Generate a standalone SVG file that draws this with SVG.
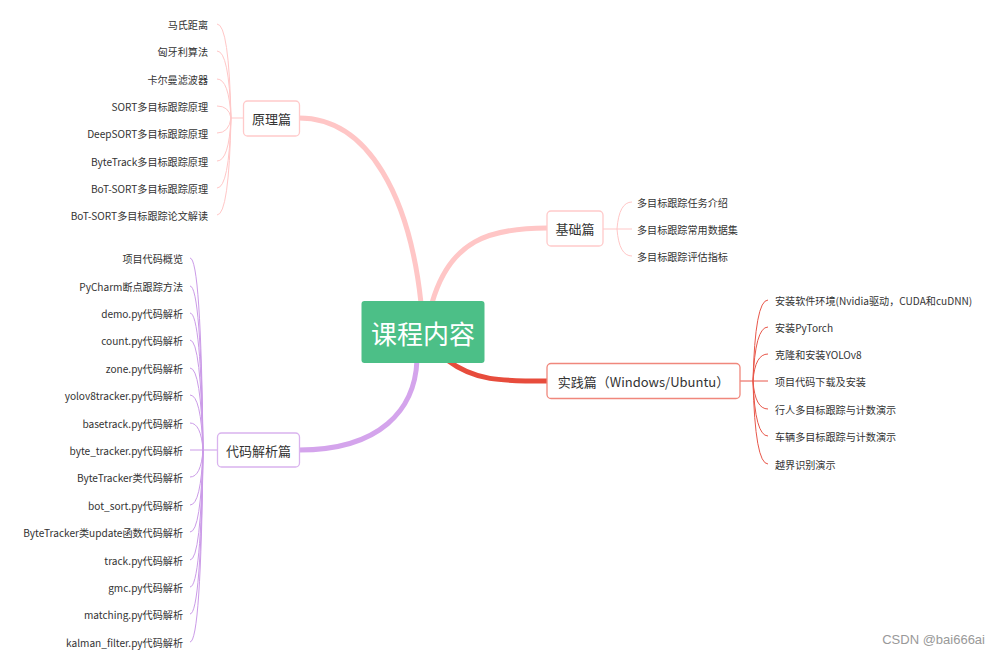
<svg xmlns="http://www.w3.org/2000/svg" width="1000" height="655" viewBox="0 0 1000 655">
<style>
text{font-family:"Noto Sans CJK SC","Noto Sans",sans-serif;fill:#333;dominant-baseline:central}
.leaf{font-size:10.1px}
.lr{text-anchor:end}
.topic{font-size:13px;text-anchor:middle}
.box{fill:#fff;stroke-width:1.3}
.main{fill:none;stroke-width:5;stroke-linecap:butt}
.br{fill:none;stroke-width:1}
.pink{stroke:#FFC7C7}
.red{stroke:#E8574A}
.purple{stroke:#CB9BE8}
</style>
<rect width="1000" height="655" fill="#fff"/>
<g id="connectors">
<path class="main" stroke="#FFC6C6" d="M299,118 C370,118 410,200 421,303"/>
<path class="main" stroke="#FFC6C6" d="M432,303 C450,240 490,228 547,228"/>
<path class="main" stroke="#E74C3C" d="M447,360 C475,381 500,381 547,381"/>
<path class="main" stroke="#D4A4EC" d="M417,360 C415,410 380,450 299,450"/>
<g class="br pink">
<path d="M243,118 H231"/>
<path d="M231,118 Q229,24 217,24"/>
<path d="M231,118 Q229,51 217,51"/>
<path d="M231,118 Q229,79 217,79"/>
<path d="M231,118 Q229,106 217,106"/>
<path d="M231,118 Q229,133 217,133"/>
<path d="M231,118 Q229,161 217,161"/>
<path d="M231,118 Q229,188 217,188"/>
<path d="M231,118 Q229,215 217,215"/>
</g>
<g class="br pink">
<path d="M603,229 H617"/>
<path d="M617,229 Q619,202 632,202"/>
<path d="M617,229 H632"/>
<path d="M617,229 Q619,256 632,256"/>
</g>
<g class="br red">
<path d="M740,381 H753"/>
<path d="M753,381 Q755,300 768,300"/>
<path d="M753,381 Q755,327 768,327"/>
<path d="M753,381 Q755,354 768,354"/>
<path d="M753,381 H768"/>
<path d="M753,381 Q755,409 768,409"/>
<path d="M753,381 Q755,436 768,436"/>
<path d="M753,381 Q755,464 768,464"/>
</g>
<g class="br purple">
<path d="M217,450 H203"/>
<path d="M203,450 Q201,258 190,258"/>
<path d="M203,450 Q201,286 190,286"/>
<path d="M203,450 Q201,313 190,313"/>
<path d="M203,450 Q201,340 190,340"/>
<path d="M203,450 Q201,368 190,368"/>
<path d="M203,450 Q201,395 190,395"/>
<path d="M203,450 Q201,423 190,423"/>
<path d="M203,450 H190"/>
<path d="M203,450 Q201,477 190,477"/>
<path d="M203,450 Q201,505 190,505"/>
<path d="M203,450 Q201,532 190,532"/>
<path d="M203,450 Q201,560 190,560"/>
<path d="M203,450 Q201,587 190,587"/>
<path d="M203,450 Q201,614 190,614"/>
<path d="M203,450 Q201,642 190,642"/>
</g>
</g>
<g id="root">
<rect x="361.5" y="301" width="123" height="62" rx="3" fill="#4CBF87"/>
<text x="423" y="332" font-size="26" text-anchor="middle" style="fill:#fff">课程内容</text>
</g>
<g id="yuanli">
<rect class="box" x="243.5" y="101" width="56" height="35" rx="4" stroke="#FFCACA"/>
<text class="topic" x="271.5" y="118.5">原理篇</text>
<g class="leaf lr">
<text x="208" y="24">马氏距离</text>
<text x="208" y="51">匈牙利算法</text>
<text x="208" y="79">卡尔曼滤波器</text>
<text x="208" y="106">SORT多目标跟踪原理</text>
<text x="208" y="133">DeepSORT多目标跟踪原理</text>
<text x="208" y="161">ByteTrack多目标跟踪原理</text>
<text x="208" y="188">BoT-SORT多目标跟踪原理</text>
<text x="208" y="215">BoT-SORT多目标跟踪论文解读</text>
</g>
</g>
<g id="jichu">
<rect class="box" x="547" y="211" width="56" height="35" rx="4" stroke="#FFCACA"/>
<text class="topic" x="575" y="228.5">基础篇</text>
<g class="leaf">
<text x="637" y="202">多目标跟踪任务介绍</text>
<text x="637" y="229">多目标跟踪常用数据集</text>
<text x="637" y="256">多目标跟踪评估指标</text>
</g>
</g>
<g id="shijian">
<rect class="box" x="547" y="363.5" width="193" height="35" rx="4" stroke="#F0877C"/>
<text class="topic" x="643.5" y="381">实践篇（Windows/Ubuntu）</text>
<g class="leaf">
<text x="775" y="300">安装软件环境(Nvidia驱动，CUDA和cuDNN)</text>
<text x="775" y="327">安装PyTorch</text>
<text x="775" y="354">克隆和安装YOLOv8</text>
<text x="775" y="381.5">项目代码下载及安装</text>
<text x="775" y="409">行人多目标跟踪与计数演示</text>
<text x="775" y="436.5">车辆多目标跟踪与计数演示</text>
<text x="775" y="464">越界识别演示</text>
</g>
</g>
<g id="daima">
<rect class="box" x="217.5" y="433" width="82" height="34" rx="4" stroke="#D9B3EE"/>
<text class="topic" x="258.5" y="450">代码解析篇</text>
<g class="leaf lr">
<text x="183" y="258">项目代码概览</text>
<text x="183" y="286">PyCharm断点跟踪方法</text>
<text x="183" y="313">demo.py代码解析</text>
<text x="183" y="340">count.py代码解析</text>
<text x="183" y="368">zone.py代码解析</text>
<text x="183" y="395">yolov8tracker.py代码解析</text>
<text x="183" y="423">basetrack.py代码解析</text>
<text x="183" y="450">byte_tracker.py代码解析</text>
<text x="183" y="477">ByteTracker类代码解析</text>
<text x="183" y="505">bot_sort.py代码解析</text>
<text x="183" y="532">ByteTracker类update函数代码解析</text>
<text x="183" y="560">track.py代码解析</text>
<text x="183" y="587">gmc.py代码解析</text>
<text x="183" y="614">matching.py代码解析</text>
<text x="183" y="642">kalman_filter.py代码解析</text>
</g>
</g>
<text x="985" y="639" font-size="13" text-anchor="end" style="fill:#999;font-family:'Liberation Sans',Arial,sans-serif">CSDN @bai666ai</text>
</svg>
